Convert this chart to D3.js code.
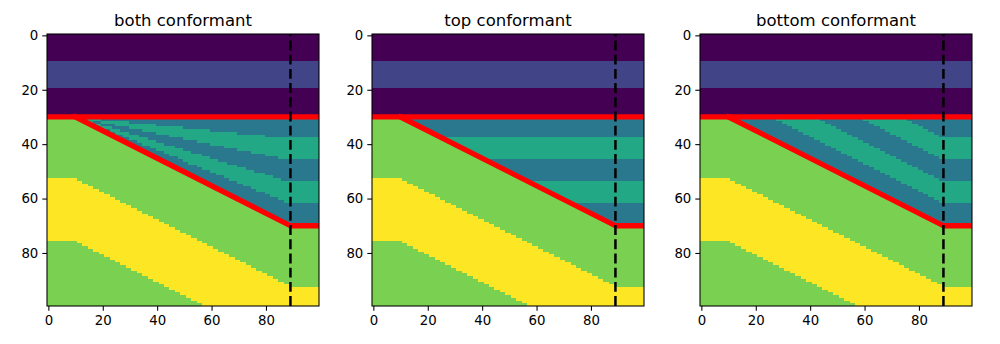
<!DOCTYPE html>
<html>
<head>
<meta charset="utf-8">
<script src="https://cdn.jsdelivr.net/npm/d3@7"></script>
<style>
  body { margin: 0; background: #fff; }
  text { font-family: "DejaVu Sans", sans-serif; }
</style>
</head>
<body>
<svg id="chart" width="1000" height="344"></svg>
<script>
// panels
const panelTitles = ['both conformant', 'top conformant', 'bottom conformant'];
const panelModes = ['both', 'top', 'bottom'];

// grid is 100 x 100 cells
const nCols = 100;
const nRows = 100;

// flat layers on top (row breaks and values)
const topBreaks = [0, 10, 20, 30];
const topValues = [0, 1, 0];

// base of the wedge: flat, then dipping, then flat again
const hingeX = [10, 89];
const baseDepth = [30, 70];
const wedgeTop = 30;
const wedgeLayerCount = 5;
const wedgeLayerThickness = 8;
const wedgeValues = [2, 3];

// layers below the wedge base (offset below base, values)
const lowerBreaks = [22.5, 45.5];
const lowerValues = [4, 5, 4];

const markerX = 89;
const xTicks = [0, 20, 40, 60, 80];
const yTicks = [0, 20, 40, 60, 80];

const panelLeft = [47, 372, 700];
const panelTop = 34;
const size = 272;

const color = d3.scaleSequential(d3.interpolateViridis).domain([0, 5]);

function baseAt(c) {
	let t = Math.max(0, Math.min(hingeX[1] - hingeX[0], c - hingeX[0]));
	return baseDepth[0] + t * (baseDepth[1] - baseDepth[0]) / (hingeX[1] - hingeX[0]);
}

function cellValue(mode, r, c) {
	for (let i = 0; i < topValues.length; i++) {
		if (r >= topBreaks[i] && r < topBreaks[i + 1]) return topValues[i];
	}
	let b = baseAt(c);
	if (r < b) {
		let idx;
		if (mode === 'both') idx = Math.floor((r - wedgeTop) / (b - wedgeTop) * wedgeLayerCount);
		else if (mode === 'top') idx = Math.floor((r - wedgeTop) / wedgeLayerThickness);
		else idx = Math.ceil((b - r) / wedgeLayerThickness) - 1;
		return wedgeValues[idx % 2];
	}
	let d = r - b;
	if (d < lowerBreaks[0]) return lowerValues[0];
	if (d < lowerBreaks[1]) return lowerValues[1];
	return lowerValues[2];
}

// runs of equal value down each column
function columnRuns(mode) {
	let runs = [];
	for (let c = 0; c < nCols; c++) {
		let start = 0;
		let v = cellValue(mode, 0, c);
		for (let r = 1; r <= nRows; r++) {
			let nv = r < nRows ? cellValue(mode, r, c) : -1;
			if (nv !== v) {
				runs.push({c: c, r0: start, r1: r - 1, v: v});
				start = r;
				v = nv;
			}
		}
	}
	return runs;
}

const svg = d3.select('#chart');
svg.append('rect').attr('width', 1000).attr('height', 344).attr('fill', '#fff');

const x = d3.scaleLinear().domain([-0.5, nCols - 0.5]).range([0, size]);
const y = d3.scaleLinear().domain([-0.5, nRows - 0.5]).range([0, size]);

panelModes.forEach(function (mode, i) {
	let g = svg.append('g')
		.attr('transform', 'translate(' + panelLeft[i] + ',' + panelTop + ')');

	let clipId = 'clip' + i;
	g.append('clipPath').attr('id', clipId)
		.append('rect').attr('width', size).attr('height', size);

	let plot = g.append('g').attr('clip-path', 'url(#' + clipId + ')');

	plot.selectAll('.cell')
		.data(columnRuns(mode))
		.enter()
		.append('rect')
		.attr('class', 'cell')
		.attr('x', d => x(d.c - 0.5))
		.attr('y', d => y(d.r0 - 0.5))
		.attr('width', d => x(d.c + 0.5) - x(d.c - 0.5))
		.attr('height', d => y(d.r1 + 0.5) - y(d.r0 - 0.5))
		.attr('fill', d => color(d.v))
		.attr('shape-rendering', 'crispEdges');

	let line = d3.line().x(d => x(d[0])).y(d => y(d[1]));

	// top of the wedge
	plot.append('path')
		.attr('d', line([[-0.5, wedgeTop], [nCols - 0.5, wedgeTop]]))
		.attr('fill', 'none')
		.attr('stroke', 'red')
		.attr('stroke-width', 5.3);

	// base of the wedge
	plot.append('path')
		.attr('d', line([[hingeX[0], baseDepth[0]], [hingeX[1], baseDepth[1]], [nCols - 0.5, baseDepth[1]]]))
		.attr('fill', 'none')
		.attr('stroke', 'red')
		.attr('stroke-width', 5.3)
		.attr('stroke-linejoin', 'round')
		.attr('stroke-linecap', 'square');

	// dashed marker, drawn bottom to top
	plot.append('path')
		.attr('d', line([[markerX, nRows - 0.5], [markerX, -0.5]]))
		.attr('fill', 'none')
		.attr('stroke', '#000')
		.attr('stroke-width', 2.5)
		.attr('stroke-dasharray', '9.9,4.3');

	// frame
	g.append('rect')
		.attr('x', 0).attr('y', 0)
		.attr('width', size).attr('height', size)
		.attr('fill', 'none')
		.attr('stroke', '#000')
		.attr('stroke-width', 1.07);

	let xAxis = g.append('g')
		.attr('transform', 'translate(0,' + size + ')')
		.call(d3.axisBottom(x).tickValues(xTicks).tickSize(4.7).tickSizeOuter(0).tickPadding(5));
	let yAxis = g.append('g')
		.call(d3.axisLeft(y).tickValues(yTicks).tickSize(4.7).tickSizeOuter(0).tickPadding(4));

	[xAxis, yAxis].forEach(function (ax) {
		ax.select('.domain').remove();
		ax.selectAll('line').attr('stroke', '#000').attr('stroke-width', 1.07);
		ax.selectAll('text')
			.attr('fill', '#000')
			.style('font-family', '"DejaVu Sans", sans-serif')
			.style('font-size', '13.3px');
	});

	g.append('text')
		.attr('x', size / 2)
		.attr('y', -8)
		.attr('text-anchor', 'middle')
		.attr('fill', '#000')
		.style('font-size', '16.5px')
		.text(panelTitles[i]);
});
</script>
</body>
</html>
